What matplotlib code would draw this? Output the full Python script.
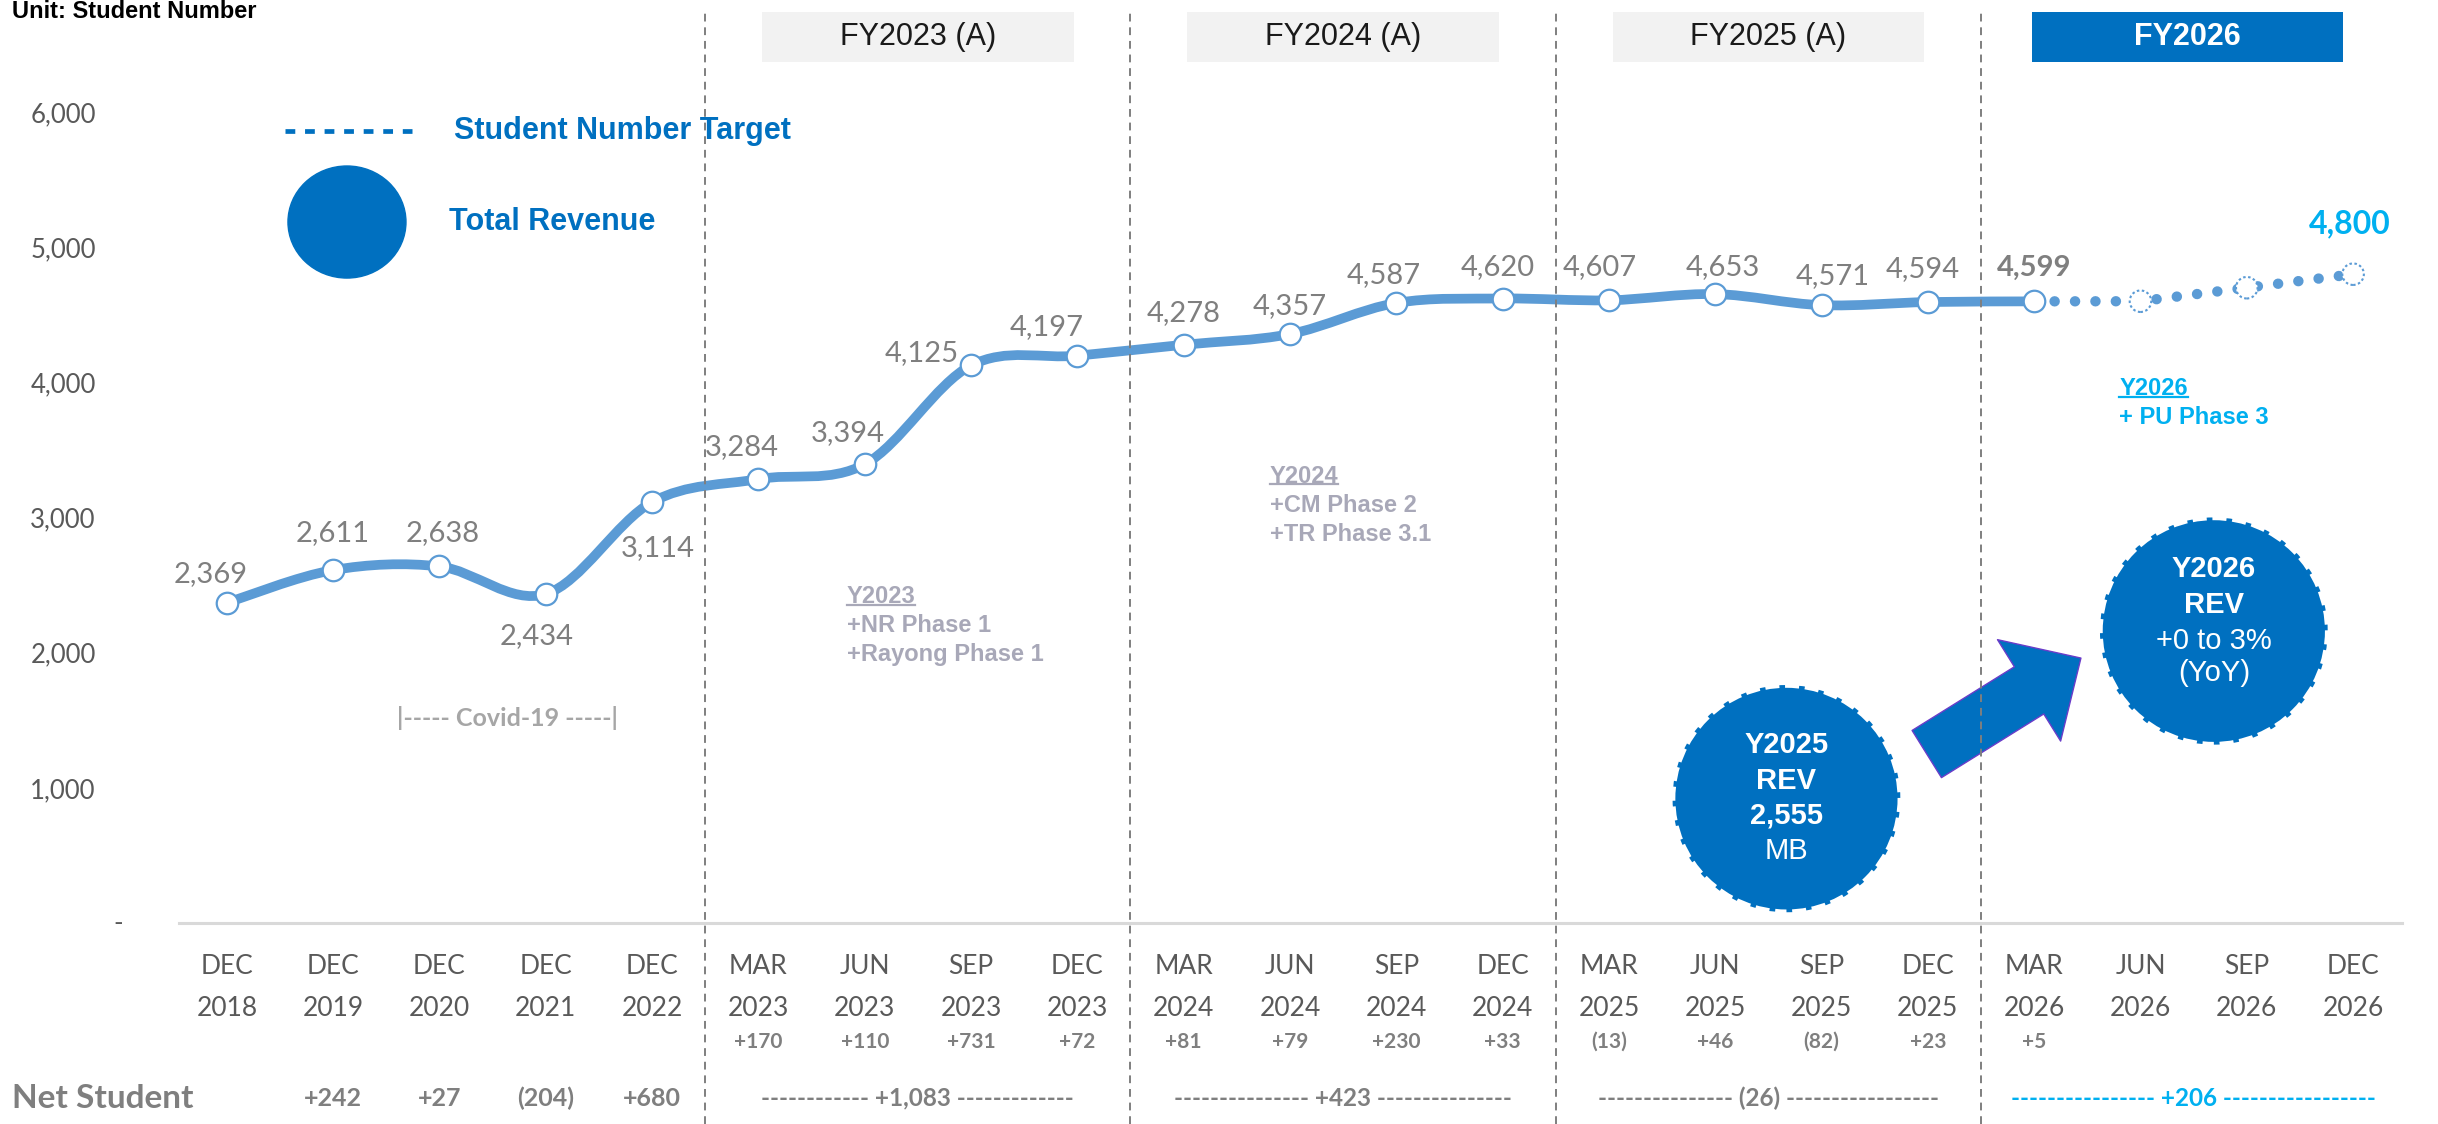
#!/usr/bin/env python
"""Student number trend with FY bands, net-student rows and revenue bubbles."""

import matplotlib

matplotlib.use("Agg")
import matplotlib.pyplot as plt
import numpy as np
from matplotlib import font_manager
from matplotlib.lines import Line2D
from matplotlib.patches import Ellipse, FancyArrowPatch, PathPatch, Rectangle
from matplotlib.path import Path

# ---- data -----------------------------------------------------------------
periods = ["DEC\n2018", "DEC\n2019", "DEC\n2020", "DEC\n2021", "DEC\n2022",
           "MAR\n2023", "JUN\n2023", "SEP\n2023", "DEC\n2023",
           "MAR\n2024", "JUN\n2024", "SEP\n2024", "DEC\n2024",
           "MAR\n2025", "JUN\n2025", "SEP\n2025", "DEC\n2025",
           "MAR\n2026", "JUN\n2026", "SEP\n2026", "DEC\n2026"]
students = [2369, 2611, 2638, 2434, 3114, 3284, 3394, 4125, 4197, 4278, 4357,
            4587, 4620, 4607, 4653, 4571, 4594, 4599]
target = [4599, 4600, 4700, 4800]  # from MAR 2026 actual to DEC 2026 target
quarter_change = ["", "", "", "", "", "+170", "+110", "+731", "+72",
                  "+81", "+79", "+230", "+33", "(13)", "+46", "(82)", "+23",
                  "+5", "", "", ""]
yearly_net = ["", "+242", "+27", "(204)", "+680"]
fy_names = ["FY2023 (A)", "FY2024 (A)", "FY2025 (A)", "FY2026"]
fy_years = ["2023", "2024", "2025", "2026"]
fy_net = ["------------ +1,083 -------------",
          "--------------- +423 ---------------",
          "--------------- (26) -----------------",
          "---------------- +206 -----------------"]
yticks = [0, 1000, 2000, 3000, 4000, 5000, 6000]
rev_2025 = ["Y2025", "REV", "2,555", "MB"]
rev_2026 = ["Y2026", "REV", "+0 to 3%", "(YoY)"]

# ---- style ----------------------------------------------------------------
BLUE = "#0070C0"
LINE = "#5B9BD5"
CYAN = "#00B0F0"
GRAY = "#7F7F7F"
TICK = "#595959"
NOTE = "#A8A8B8"

names = {f.name for f in font_manager.fontManager.ttflist}
CAL = "Lato" if "Lato" in names else "DejaVu Sans"
ARIAL = "Liberation Sans" if "Liberation Sans" in names else "DejaVu Sans"

W, H = 2438, 1124
fig = plt.figure(figsize=(W / 100, H / 100), dpi=100)
ax = fig.add_axes([179 / W, 1 - 923 / H, 2223 / W, 811 / H])
ax.set_xlim(-0.45, 20.46)
ax.set_ylim(0, 6000)
trans = ax.get_xaxis_transform()

for side in ("top", "right", "left"):
    ax.spines[side].set_visible(False)
ax.spines["bottom"].set_color("#D9D9D9")
ax.spines["bottom"].set_linewidth(2.2)

ax.set_xticks(range(len(periods)), periods, fontsize=19, color=TICK,
              family=CAL, linespacing=1.82)
ax.tick_params(axis="x", length=0, pad=22.5)
ax.set_yticks(yticks, ["{:,}".format(v) if v else "" for v in yticks],
              fontsize=18.5, color=TICK, family=CAL)
ax.tick_params(axis="y", length=0, pad=60)
ax.text(-0.0274, 0, "-", transform=ax.get_yaxis_transform(), ha="center",
        va="center", fontsize=18.5, color=TICK, family=CAL)

# group boundaries: a new quarter year starts at MAR
for i in range(1, len(periods)):
    if periods[i].startswith("MAR"):
        ax.axvline(i - 0.5, ymin=-0.248, ymax=1.125, clip_on=False,
                   color=GRAY, lw=1.4, dashes=(4, 3), zorder=7)


def smooth_path(xs, ys):
    """Excel-like smoothed line as cubic Bezier segments."""
    pts = np.column_stack([xs, ys]).astype(float)
    n = len(pts)
    verts = [pts[0]]
    codes = [Path.MOVETO]
    for i in range(n - 1):
        p0 = pts[i - 1] if i > 0 else pts[i]
        p1 = pts[i]
        p2 = pts[i + 1]
        p3 = pts[i + 2] if i + 2 < n else pts[i + 1]
        verts += [p1 + (p2 - p0) / 6, p2 - (p3 - p1) / 6, p2]
        codes += [Path.CURVE4] * 3
    return Path(verts, codes)


# ---- series ---------------------------------------------------------------
xs = np.arange(len(students))
ax.add_patch(PathPatch(smooth_path(xs, students), fill=False, edgecolor=LINE,
                       lw=7, capstyle="round", joinstyle="round", zorder=3))
ax.plot(xs, students, "o", ms=15.5, mfc="white", mec=LINE, mew=1.6, zorder=5)

tx = np.arange(len(students) - 1, len(students) - 1 + len(target))
ax.plot(tx, target, ls=(0, (0.01, 1.95)), lw=7.5, color=LINE,
        dash_capstyle="round", zorder=3)
ax.scatter(tx[1:], target[1:], s=15.5 ** 2, facecolors="white",
           edgecolors=LINE, linewidths=1.5, linestyles=(0, (1.2, 1.2)),
           zorder=5)

label_offsets = [(-16, 29), (0, 37), (3, 33), (-9, -42), (6, -46), (-17, 32),
                 (-17, 31), (-49, 12), (-31, 29), (0, 32), (0, 28), (-13, 28),
                 (-5, 31), (-9, 33), (8, 27), (11, 29), (-5, 33), (0, 34)]
for i, (v, off) in enumerate(zip(students, label_offsets)):
    ax.annotate("{:,}".format(v), (i, v), xytext=off,
                textcoords="offset pixels", ha="center", va="center",
                fontsize=21, color=GRAY, family=CAL, zorder=6,
                weight="bold" if i == len(students) - 1 else "normal")
ax.annotate("{:,}".format(target[-1]), (tx[-1], target[-1]), xytext=(-3, 50),
            textcoords="offset pixels", ha="center", va="center",
            fontsize=23, color=CYAN, family=CAL, weight="bold")

# ---- FY headers and bottom rows ------------------------------------------
groups = [[i for i, p in enumerate(periods) if p.endswith(y)] for y in fy_years]
for k, (name, idx) in enumerate(zip(fy_names, groups)):
    cx = np.mean(idx)
    last = k == len(fy_names) - 1
    bx = cx - 0.06 if last else cx
    ax.add_patch(Rectangle((bx - 1.465, 1.0617), 2.93, 0.0617,
                           transform=trans, clip_on=False, edgecolor="none",
                           facecolor=BLUE if last else "#F2F2F2"))
    ax.text(bx, 1.0925, name, transform=trans, ha="center", va="center",
            fontsize=22, family=ARIAL, color="white" if last else "#1A1A1A",
            weight="bold" if last else "normal")
    ax.text(cx, -0.2158, fy_net[k], transform=trans, ha="center",
            va="center", fontsize=17.5, family=CAL, weight="bold",
            color=CYAN if last else GRAY)

for i, s in enumerate(quarter_change):
    if s:
        ax.text(i, -0.1467, s, transform=trans, ha="center", va="center",
                fontsize=15, weight="bold", color=GRAY, family=CAL)
for i, s in enumerate(yearly_net):
    if s:
        ax.text(i, -0.2158, s, transform=trans, ha="center", va="center",
                fontsize=18, weight="bold", color=GRAY, family=CAL)

fig.text(12 / W, 1 - 1098 / H, "Net Student", ha="left", va="center",
         fontsize=24, weight="bold", color=GRAY, family=CAL)
fig.text(12 / W, 1 - 12 / H, "Unit: Student Number", ha="left", va="center",
         fontsize=17, weight="bold", color="black", family=ARIAL)

# ---- legend -----------------------------------------------------------------
ax.plot([0.545, 1.74], [5859, 5859], color=BLUE, lw=3.4, dashes=(2.07, 2.07))
ax.text(2.135, 5859, "Student Number Target", va="center", fontsize=22,
        weight="bold", color=BLUE, family=ARIAL)
ax.add_patch(Ellipse((1.13, 5186), 1.11, 829, color=BLUE))
ax.text(2.09, 5186, "Total Revenue", va="center", fontsize=22,
        weight="bold", color=BLUE, family=ARIAL)

# ---- annotations ------------------------------------------------------------
ax.text(2.64, 1517, "|----- Covid-19 -----|", ha="center", va="center",
        fontsize=18, weight="bold", color="#A6A6A6", family=CAL)

underlined = []


def note(x, y, title, lines, color):
    t = ax.annotate(title, (x, y), ha="left", va="center", fontsize=17,
                    weight="bold", color=color, family=ARIAL)
    underlined.append((t, color))
    for k, line in enumerate(lines, 1):
        ax.annotate(line, (x, y), xytext=(0, -29 * k),
                    textcoords="offset pixels", ha="left", va="center",
                    fontsize=17, weight="bold", color=color, family=ARIAL)


note(5.83, 2412, "Y2023", ["+NR Phase 1", "+Rayong Phase 1"], NOTE)
note(9.81, 3307, "Y2024", ["+CM Phase 2", "+TR Phase 3.1"], NOTE)
note(17.80, 3951, "Y2026", ["+ PU Phase 3"], CYAN)


def bubble(cx, cy, lines, offsets):
    ax.add_patch(Ellipse((cx, cy), 2.09, 1640, facecolor=BLUE, edgecolor=BLUE,
                         lw=4, ls=(0, (1, 2.5)), zorder=4))
    for k, (text, dy) in enumerate(zip(lines, offsets)):
        ax.annotate(text, (cx, cy), xytext=(0, dy), textcoords="offset pixels",
                    ha="center", va="center", fontsize=21, family=ARIAL,
                    color="white", weight="bold" if k < 2 or text[0].isdigit()
                    else "normal", zorder=5)


bubble(14.67, 920, rev_2025, [54, 18, -17, -52])
bubble(18.69, 2160, rev_2026, [62, 26, -10, -42])
ax.add_patch(FancyArrowPatch((15.99, 1250), (17.44, 1960),
                             arrowstyle="simple,head_length=44,head_width=86,"
                                        "tail_width=40",
                             mutation_scale=1, shrinkA=0, shrinkB=0,
                             facecolor=BLUE, edgecolor="#6A3CC9", lw=1,
                             zorder=4))

# underline note titles
fig.canvas.draw()
renderer = fig.canvas.get_renderer()
inv = fig.transFigure.inverted()
for t, color in underlined:
    bb = t.get_window_extent(renderer)
    y = bb.y0 + 0.17 * bb.height
    (x0, y0), (x1, _) = inv.transform([(bb.x0, y), (bb.x1, y)])
    fig.add_artist(Line2D([x0, x1], [y0, y0], transform=fig.transFigure,
                          color=color, lw=1.6))

fig.savefig("out.png", dpi=100)
